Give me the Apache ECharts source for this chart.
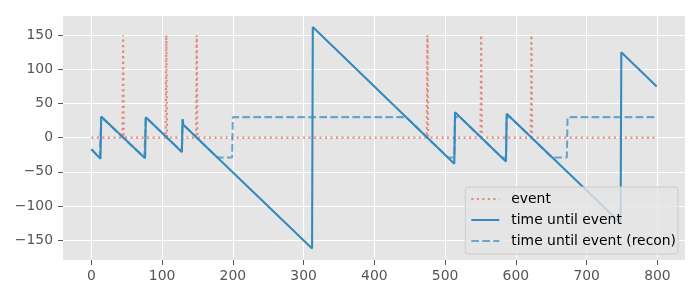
<!DOCTYPE html>
<html>
<head>
<meta charset="utf-8">
<script src="https://cdn.jsdelivr.net/npm/echarts@6/dist/echarts.min.js"></script>
<style>
html,body{margin:0;padding:0;background:#fff;}
#c{width:700px;height:300px;}
</style>
</head>
<body>
<div id="c"></div>
<script>
// ---- data ----
const xTicks = [0, 100, 200, 300, 400, 500, 600, 700, 800];
const yTicks = [-150, -100, -50, 0, 50, 100, 150];

// event indicator: 0 baseline with spikes to 150
const eventPts = [
  [0, 0], [44, 0], [45, 150], [46, 0],
  [105, 0], [106, 150], [107, 0],
  [148, 0], [149, 150], [150, 0],
  [474, 0], [475, 150], [476, 0],
  [550, 0], [551, 150], [552, 0],
  [621, 0], [622, 150], [623, 0],
  [799, 0]
];

// time until event (vertices of the sawtooth)
const timeUntil = [
  [0, -17], [13, -31],
  [14, 31], [76, -30],
  [77, 30], [128, -21],
  [129, 27], [130, 19], [312, -162],
  [313, 162], [513, -38],
  [514, 37], [586, -35],
  [587, 35], [748, -125],
  [749, 125], [799, 75]
];

// reconstructed time until event
const recon = [
  [0, -17], [12, -29], [13, -29],
  [14, 30], [75, -29], [76, -29],
  [77, 30], [128, -21],
  [129, 27], [130, 19], [178, -29], [199, -29],
  [200, 30], [445, 30], [504, -29], [513, -29],
  [514, 30], [521, 30], [580, -29], [586, -29],
  [587, 30], [592, 30], [651, -29], [672, -29],
  [673, 30], [799, 30]
];

const seriesNames = ['event', 'time until event', 'time until event (recon)'];

// ---- chart ----
const chart = echarts.init(document.getElementById('c'), null, {renderer: 'canvas'});
const FONT = 'DejaVu Sans';
const axisCommon = {
  axisLine: {show: false, onZero: false},
  axisTick: {show: true, length: 5, inside: false, lineStyle: {color: '#555555', width: 1}},
  axisLabel: {color: '#555555', fontSize: 13.9, fontFamily: FONT},
  splitLine: {show: true, lineStyle: {color: '#ffffff', width: 1.1}}
};
chart.setOption({
  animation: false,
  backgroundColor: '#ffffff',
  grid: {left: 63, right: 15, top: 16, bottom: 40, show: true, backgroundColor: '#E5E5E5', borderWidth: 0},
  xAxis: Object.assign({}, axisCommon, {
    type: 'value', min: -40, max: 839,
    axisTick: Object.assign({}, axisCommon.axisTick, {customValues: xTicks}),
    axisLabel: Object.assign({}, axisCommon.axisLabel, {customValues: xTicks, margin: 9})
  }),
  yAxis: Object.assign({}, axisCommon, {
    type: 'value', min: -179, max: 178,
    axisTick: Object.assign({}, axisCommon.axisTick, {customValues: yTicks}),
    axisLabel: Object.assign({}, axisCommon.axisLabel, {customValues: yTicks, margin: 10,
      formatter: v => (v < 0 ? '\u2212' + Math.abs(v) : String(v))})
  }),
  legend: {
    orient: 'vertical', right: 22, bottom: 46,
    backgroundColor: 'rgba(229,229,229,0.8)', borderColor: '#CCCCCC', borderWidth: 1, borderRadius: 3,
    padding: [5, 2, 6, 5], itemWidth: 28, itemHeight: 14, itemGap: 7,
    itemStyle: {color: 'rgba(0,0,0,0)', borderWidth: 0, opacity: 0},
    textStyle: {color: '#000000', fontSize: 13.9, fontFamily: FONT, padding: [0, 0, 0, 7]},
    data: seriesNames
  },
  series: [
    {name: seriesNames[0], type: 'line', data: eventPts, symbol: 'none', z: 2,
     lineStyle: {color: 'rgba(226,74,51,0.6)', width: 2.08, type: [2.08, 3.44]},
     itemStyle: {color: 'rgba(226,74,51,0.6)'}},
    {name: seriesNames[1], type: 'line', data: timeUntil, symbol: 'none', z: 3,
     lineStyle: {color: '#348ABD', width: 2.08},
     itemStyle: {color: '#348ABD'}},
    {name: seriesNames[2], type: 'line', data: recon, symbol: 'none', z: 4,
     lineStyle: {color: 'rgba(52,138,189,0.7)', width: 2.08, type: [7.7, 3.3]},
     itemStyle: {color: 'rgba(52,138,189,0.7)'}}
  ]
});
</script>
</body>
</html>
